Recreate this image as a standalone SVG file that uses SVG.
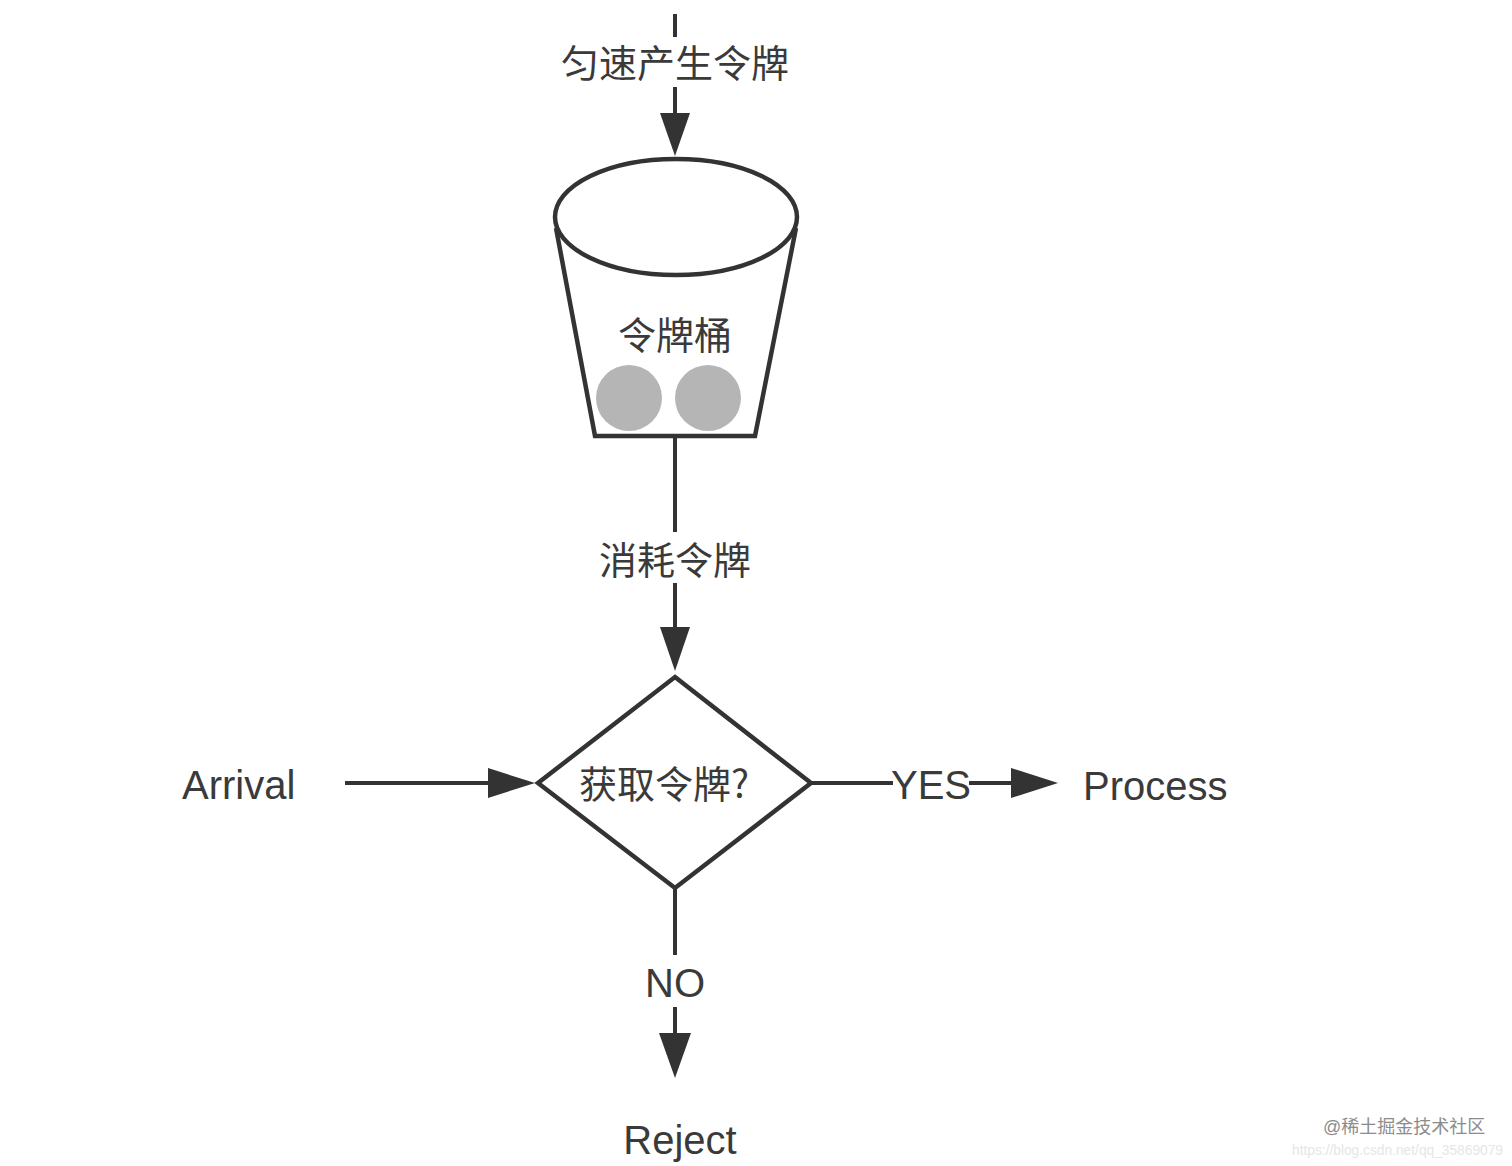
<svg xmlns="http://www.w3.org/2000/svg" width="1512" height="1166" viewBox="0 0 1512 1166">
  <style>
    .ln { stroke: #333; stroke-width: 4; fill: none; }
    .shape { stroke: #333; stroke-width: 4.5; fill: #fff; stroke-linejoin: miter; }
    .ah { fill: #333; }
    .cn { font-family: "Noto Sans CJK SC", "Liberation Sans", sans-serif; font-size: 38px; fill: #3a3a3a; text-anchor: middle; }
    .en { font-family: "Liberation Sans", Arial, sans-serif; font-size: 40px; fill: #3a3a3a; }
    .tok { fill: #b5b5b5; }
  </style>
  <rect width="1512" height="1166" fill="#fff"/>

  <g id="connectors">
    <!-- top: 匀速产生令牌 -->
    <line class="ln" x1="675" y1="14" x2="675" y2="37"/>
    <line class="ln" x1="675" y1="87" x2="675" y2="118"/>
    <polygon class="ah" points="660,113 690,113 675,156"/>
    <text class="cn" x="675" y="77">匀速产生令牌</text>

    <!-- bucket to diamond: 消耗令牌 -->
    <line class="ln" x1="675" y1="436" x2="675" y2="532"/>
    <line class="ln" x1="675" y1="583" x2="675" y2="632"/>
    <polygon class="ah" points="660,627 690,627 675,671"/>
    <text class="cn" x="675" y="574">消耗令牌</text>

    <!-- Arrival -->
    <line class="ln" x1="345" y1="783" x2="495" y2="783"/>
    <polygon class="ah" points="488,768 488,798 535,783"/>

    <!-- YES -->
    <line class="ln" x1="811" y1="783" x2="893" y2="783"/>
    <text class="en" x="931" y="799" text-anchor="middle" font-size="38">YES</text>
    <line class="ln" x1="969" y1="783" x2="1016" y2="783"/>
    <polygon class="ah" points="1011,768 1011,798 1058,783"/>

    <!-- NO -->
    <line class="ln" x1="675" y1="888" x2="675" y2="955"/>
    <text class="en" x="675" y="997" text-anchor="middle" font-size="38">NO</text>
    <line class="ln" x1="675" y1="1007" x2="675" y2="1038"/>
    <polygon class="ah" points="659,1033 691,1033 675,1078"/>
  </g>

  <g id="bucket">
    <path class="shape" d="M556,228 L595,436 L755,436 L796,228"/>
    <ellipse class="shape" cx="676" cy="217" rx="121" ry="58"/>
    <text class="cn" x="675" y="349">令牌桶</text>
    <circle class="tok" cx="629" cy="398" r="33"/>
    <circle class="tok" cx="708" cy="398" r="33"/>
  </g>

  <g id="decision">
    <polygon class="shape" points="675,677 811,783 675,888 538,783"/>
    <text class="cn" x="664" y="798">获取令牌?</text>
  </g>

  <g id="arrival">
    <text class="en" x="182" y="799">Arrival</text>
  </g>

  <g id="process">
    <text class="en" x="1083" y="800">Process</text>
  </g>

  <g id="reject">
    <text class="en" x="680" y="1154" text-anchor="middle">Reject</text>
  </g>

  <g id="watermark">
    <text x="1323" y="1133" font-family="'Liberation Sans', 'Noto Sans CJK SC', sans-serif" font-size="18" fill="#8c8c8c">@稀土掘金技术社区</text>
    <text x="1292" y="1155" font-family="'Liberation Sans', sans-serif" font-size="14" fill="#e6e6e6" textLength="211" lengthAdjust="spacingAndGlyphs">https://blog.csdn.net/qq_35869079</text>
  </g>
</svg>
